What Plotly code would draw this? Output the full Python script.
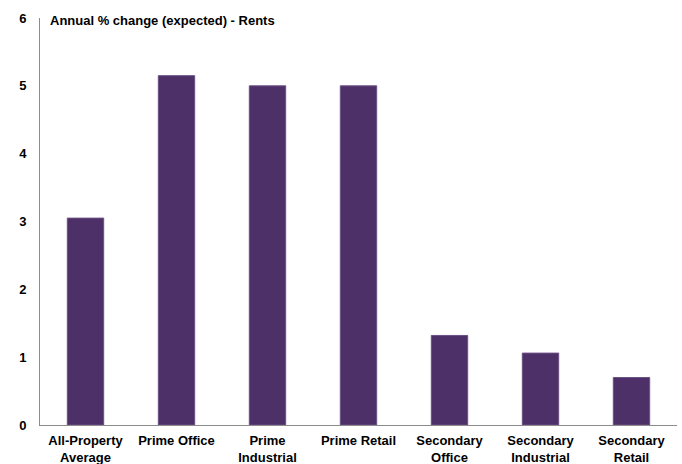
import plotly.graph_objects as go

categories = ["All-Property<br>Average", "Prime Office", "Prime<br>Industrial", "Prime Retail",
              "Secondary<br>Office", "Secondary<br>Industrial", "Secondary<br>Retail"]
values = [3.05, 5.15, 5.0, 5.0, 1.32, 1.06, 0.70]
y_ticks = [0, 1, 2, 3, 4, 5, 6]
title_text = "Annual % change (expected) - Rents"

font_family = "Liberation Sans, Arial, sans-serif"

fig = go.Figure(go.Bar(
    x=categories, y=values,
    marker=dict(color="#4E3068", line=dict(color="#6A5083", width=1)),
    width=0.4,
))

fig.update_layout(
    width=682, height=464,
    margin=dict(l=40, r=5, t=18, b=39, autoexpand=False),
    plot_bgcolor="white", paper_bgcolor="white",
    showlegend=False,
    font=dict(family=font_family, size=13, color="black"),
    annotations=[dict(
        text="<b>" + title_text + "</b>", xref="paper", yref="paper",
        x=0.013, y=0.993, xanchor="left", yanchor="middle", showarrow=False,
        font=dict(family=font_family, size=13, color="black"),
    )],
)
fig.update_xaxes(
    showline=True, linecolor="#8C8C8C", linewidth=1, showgrid=False, automargin=False,
    ticks="", tickfont=dict(family=font_family, size=13, color="black", weight="bold"),
    ticklabelstandoff=3,
)
fig.update_yaxes(
    range=[0, 6], tickvals=y_ticks, showline=True, linecolor="#8C8C8C", linewidth=1,
    showgrid=False, zeroline=False, ticks="", automargin=False,
    tickfont=dict(family=font_family, size=13, color="black", weight="bold"),
    ticklabelstandoff=10,
)

fig.write_html("out.html", config={"displayModeBar": False},
               post_script="document.body.style.margin='0';document.body.style.overflow='hidden';")
